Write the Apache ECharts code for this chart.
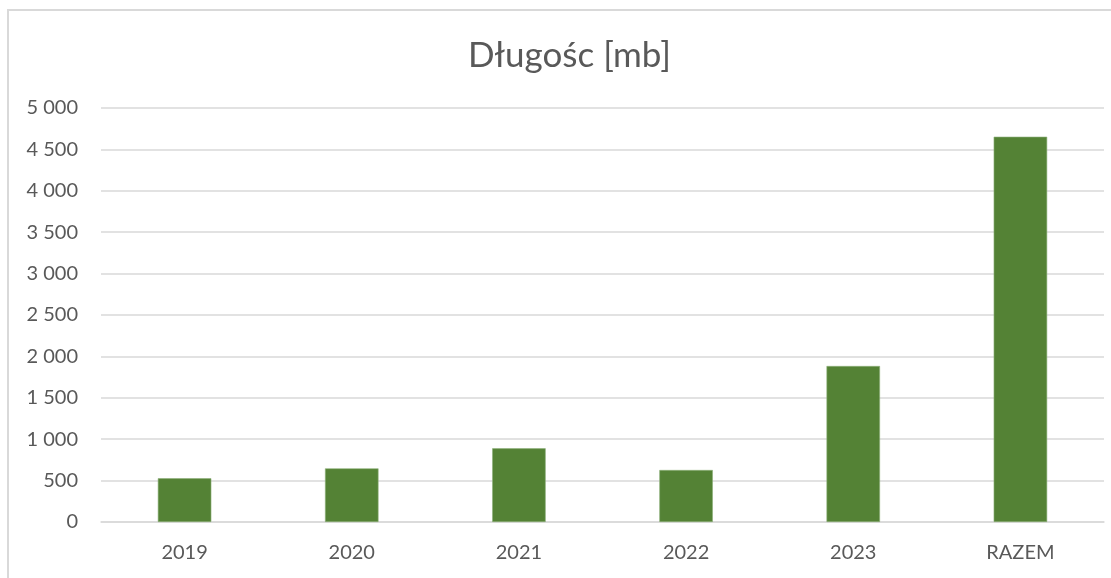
<!DOCTYPE html>
<html>
<head>
<meta charset="utf-8">
<script src="https://cdn.jsdelivr.net/npm/echarts@6/dist/echarts.min.js"></script>
<style>
  html, body { margin: 0; padding: 0; background: #fff; }
  .frame {
    position: absolute; left: 7px; top: 9px; width: 1200px; height: 700px;
    border-left: 2px solid #d9d9d9; border-top: 2px solid #d9d9d9;
  }
  #chart { position: absolute; left: 0; top: 0; width: 1111px; height: 578px; }
</style>
</head>
<body>
<div class="frame"></div>
<div id="chart"></div>
<script>
const categories = ['2019', '2020', '2021', '2022', '2023', 'RAZEM']
const lengths = [528, 648, 890, 628, 1884, 4653]
const yTicks = { min: 0, max: 5000, interval: 500 }

// 5000 -> "5 000"
const fmt = (v) => String(v).replace(/\B(?=(\d{3})+(?!\d))/g, ' ')

const chart = echarts.init(document.getElementById('chart'))

const option = {
  animation: false,
  textStyle: { fontFamily: 'Lato' },
  title: {
    text: 'Długośc [mb]',
    left: 463,
    top: 33,
    textStyle: { fontFamily: 'Lato', fontSize: 35, fontWeight: 'normal', color: '#595959' }
  },
  grid: { left: 101, right: 7, top: 108, bottom: 56, containLabel: false },
  xAxis: {
    type: 'category',
    data: categories,
    axisLine: { lineStyle: { color: '#d9d9d9', width: 1.5 } },
    axisTick: { show: false },
    axisLabel: { color: '#595959', fontSize: 20, margin: 21 }
  },
  yAxis: {
    type: 'value',
    min: yTicks.min,
    max: yTicks.max,
    interval: yTicks.interval,
    axisLine: { show: false },
    axisTick: { show: false },
    splitLine: { lineStyle: { color: '#d9d9d9', width: 1.5 } },
    axisLabel: { color: '#595959', fontSize: 20, margin: 23, formatter: fmt }
  },
  series: [
    {
      type: 'bar',
      data: lengths,
      barWidth: '32%',
      itemStyle: { color: '#548235', borderColor: '#8db07a', borderWidth: 0.6 }
    }
  ]
}

chart.setOption(option)
</script>
</body>
</html>
